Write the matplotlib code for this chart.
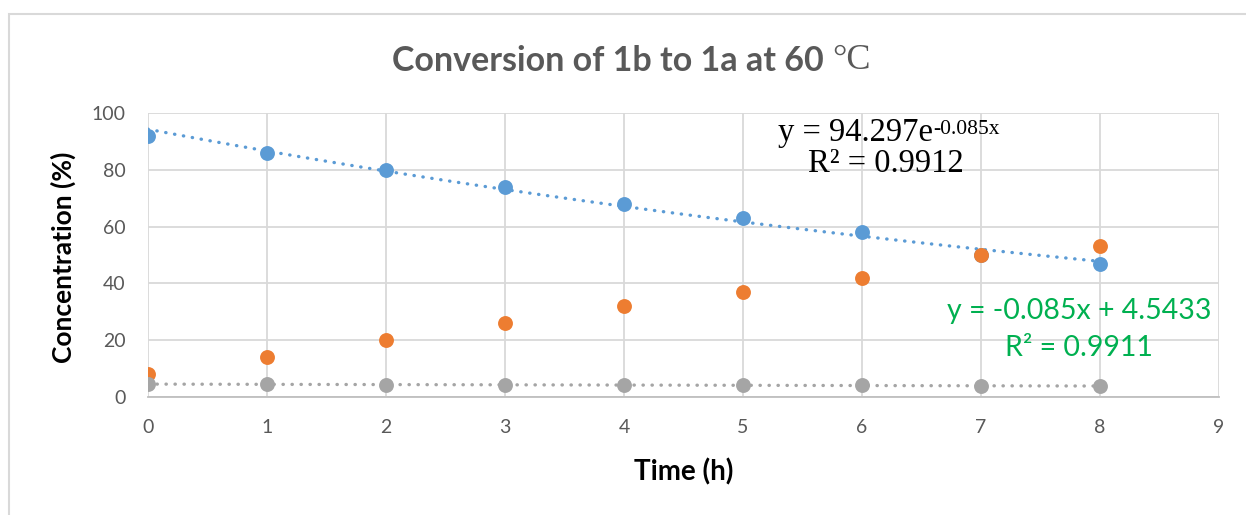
import matplotlib
matplotlib.use("Agg")
from matplotlib import pyplot as plt
from matplotlib.patches import Rectangle
import numpy as np

# Data
time_h = [0, 1, 2, 3, 4, 5, 6, 7, 8]
conc_1b = [92, 86, 80, 74, 68, 63, 58, 50, 47]
conc_1a = [8, 14, 20, 26, 32, 37, 42, 50, 53]
ln_1b = [4.52, 4.45, 4.38, 4.30, 4.22, 4.14, 4.06, 3.91, 3.85]

# Trendline coefficients as shown on the chart
exp_a, exp_b = 94.297, -0.085
lin_m, lin_c = -0.085, 4.5433

blue = "#5B9BD5"
orange = "#ED7D31"
grey = "#A5A5A5"
grid_col = "#D9D9D9"
text_grey = "#595959"
sans = ["Lato", "DejaVu Sans"]
serif = ["Liberation Serif", "DejaVu Serif"]

W, H = 1246, 515
fig = plt.figure(figsize=(W / 100, H / 100), dpi=100)
ax = fig.add_axes([148 / W, 1 - 397 / H, (1219 - 148) / W, (397 - 113) / H])


def px(x, y):
    # pixel position (from top-left) -> figure fraction
    return x / W, 1 - y / H


# outer chart border
fig.patches.append(Rectangle((9 / W, -0.1), 1.2, 1.1 - 14 / H, transform=fig.transFigure,
                             fill=False, edgecolor=grid_col, lw=1.5))

# trendlines
xt = np.linspace(0, 8, 100)
dots = (0, (0.1, 2.6))
ax.plot(xt, exp_a * np.exp(exp_b * xt), color=blue, lw=2.4, linestyle=dots,
        dash_capstyle="round", zorder=2)
ax.plot(xt, lin_m * xt + lin_c, color=grey, lw=2.4, linestyle=dots,
        dash_capstyle="round", zorder=2)

ax.scatter(time_h, conc_1b, s=115, color=blue, zorder=3, linewidths=0)
ax.scatter(time_h, conc_1a, s=115, color=orange, zorder=3, linewidths=0)
ax.scatter(time_h, ln_1b, s=115, color=grey, zorder=3, linewidths=0)

ax.set_xlim(0, 9)
ax.set_ylim(0, 100)
ax.set_xticks(range(0, 10))
ax.set_yticks(range(0, 101, 20))
ax.grid(True, color=grid_col, lw=1.3)
ax.set_axisbelow(True)
for s in ax.spines.values():
    s.set_visible(False)
ax.spines["bottom"].set_visible(True)
ax.spines["bottom"].set_color("#BFBFBF")
ax.spines["bottom"].set_linewidth(1.3)
ax.tick_params(length=0, pad=16, labelsize=14, labelcolor=text_grey)
for lab in ax.get_xticklabels() + ax.get_yticklabels():
    lab.set_family(sans)

# title: Calibri-like text followed by a serif degree sign
t1 = fig.text(*px(392, 71), "Conversion of 1b to 1a at 60 ", family=sans,
              fontweight="bold", fontsize=24.5, color=text_grey, ha="left", va="baseline")
ax.annotate("°C", xy=(1, 0), xycoords=t1, xytext=(0, 0), textcoords="offset points",
            family=serif, fontsize=26, color=text_grey, ha="left", va="bottom")

fig.text(*px(63, 257), "Concentration (%)", rotation=90, family=sans,
         fontweight="bold", fontsize=19, color="black", ha="center", va="center")
fig.text(*px(684, 472), "Time (h)", family=sans, fontweight="bold",
         fontsize=20, color="black", ha="center", va="center")

# exponential trendline equation (serif, with superscript exponent)
e1 = fig.text(*px(778, 141), "y = 94.297e", family=serif, fontsize=23.5,
              color="black", ha="left", va="baseline")
ax.annotate("-0.085x", xy=(1, 0), xycoords=e1, xytext=(0, 10), textcoords="offset points",
            family=serif, fontsize=15.5, color="black", ha="left", va="baseline")
fig.text(*px(886, 172), "R² = 0.9912", family=serif, fontsize=23.5,
         color="black", ha="center", va="baseline")

# linear trendline equation
fig.text(*px(1079, 311), "y = -0.085x + 4.5433", family=sans, fontsize=20.5,
         color="#00B050", ha="center", va="center")
fig.text(*px(1079, 348), "R² = 0.9911", family=sans, fontsize=20.5,
         color="#00B050", ha="center", va="center")

fig.savefig("out.png", dpi=100)
